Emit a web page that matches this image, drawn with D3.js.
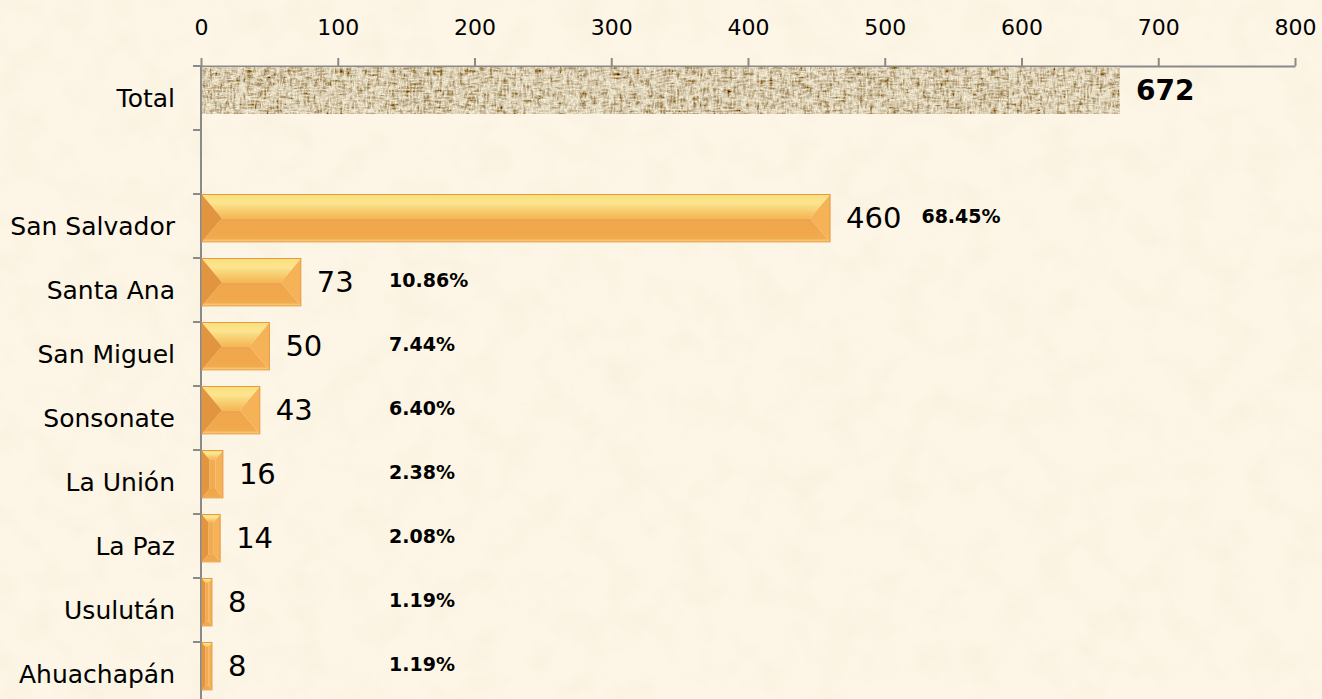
<!DOCTYPE html>
<html>
<head>
<meta charset="utf-8">
<script src="https://cdn.jsdelivr.net/npm/d3@7"></script>
<style>
  body { margin: 0; background: #fbf3e2; }
  svg { display: block; font-family: "DejaVu Sans", sans-serif; }
</style>
</head>
<body>
<div id="chart"></div>
<script>
const categories = ["Total", "", "San Salvador", "Santa Ana", "San Miguel", "Sonsonate", "La Unión", "La Paz", "Usulután", "Ahuachapán"];
const values = [672, null, 460, 73, 50, 43, 16, 14, 8, 8];
const shares = [null, null, "68.45%", "10.86%", "7.44%", "6.40%", "2.38%", "2.08%", "1.19%", "1.19%"];
const xTicks = [0, 100, 200, 300, 400, 500, 600, 700, 800];

const width = 1322, height = 699;

const svg = d3.select("#chart").append("svg")
    .attr("width", width)
    .attr("height", height);

const defs = svg.append("defs");

// parchment background
const parch = defs.append("filter").attr("id", "parch")
    .attr("x", 0).attr("y", 0).attr("width", 1).attr("height", 1);
parch.append("feTurbulence")
    .attr("type", "fractalNoise").attr("baseFrequency", "0.028")
    .attr("numOctaves", 4).attr("seed", 7);
parch.append("feColorMatrix").attr("type", "matrix")
    .attr("values", "0 0 0 0 0.94  0 0 0 0 0.88  0 0 0 0 0.74  1.8 0 0 0 -0.8");

// burlap texture for the total bar
const burlap = defs.append("filter").attr("id", "burlap")
    .attr("x", 0).attr("y", 0).attr("width", 1).attr("height", 1);
burlap.append("feTurbulence")
    .attr("type", "turbulence").attr("baseFrequency", "0.3 0.09")
    .attr("numOctaves", 2).attr("seed", 4).attr("result", "n1");
burlap.append("feTurbulence")
    .attr("type", "turbulence").attr("baseFrequency", "0.09 0.3")
    .attr("numOctaves", 2).attr("seed", 11).attr("result", "n2");
burlap.append("feComposite").attr("in", "n1").attr("in2", "n2")
    .attr("operator", "arithmetic").attr("k2", 0.85).attr("k3", 0.85);
burlap.append("feColorMatrix").attr("type", "matrix")
    .attr("values", "-1.2 0 0 0 0.98  -1.35 0 0 0 0.93  -1.3 0 0 0 0.75  0 0 0 0 1");

const topGrad = defs.append("linearGradient").attr("id", "topFacet")
    .attr("x1", 0).attr("y1", 0).attr("x2", 0).attr("y2", 1);
topGrad.append("stop").attr("offset", "0%").attr("stop-color", "#fdde78");
topGrad.append("stop").attr("offset", "35%").attr("stop-color", "#fbe690");
topGrad.append("stop").attr("offset", "100%").attr("stop-color", "#f6b653");

const botGrad = defs.append("linearGradient").attr("id", "botFacet")
    .attr("x1", 0).attr("y1", 0).attr("x2", 0).attr("y2", 1);
botGrad.append("stop").attr("offset", "0%").attr("stop-color", "#efa44a");
botGrad.append("stop").attr("offset", "85%").attr("stop-color", "#f2aa4e");
botGrad.append("stop").attr("offset", "100%").attr("stop-color", "#fcd27c");

svg.append("rect").attr("width", width).attr("height", height).attr("fill", "#fdf5e5");
svg.append("rect").attr("width", width).attr("height", height).attr("filter", "url(#parch)");

const x = d3.scaleLinear().domain([0, 800]).range([201, 1295]);
const y = d3.scaleBand().domain(categories).range([66, 706]).padding(0);
const barH = y.bandwidth() * 0.74;

const rows = categories.map((c, i) => ({ cat: c, value: values[i], share: shares[i] }));

// top axis
const xAxis = svg.append("g")
    .attr("transform", `translate(0,${y.range()[0]})`)
    .call(d3.axisTop(x).tickValues(xTicks).tickSize(8).tickSizeOuter(0).tickPadding(23));
xAxis.select(".domain").attr("stroke", "#8a8a8a").attr("stroke-width", 2);
xAxis.selectAll(".tick line").attr("stroke", "#8a8a8a").attr("stroke-width", 2);
xAxis.selectAll(".tick text")
    .attr("fill", "#000")
    .style("font-size", "22px")
    .style("font-family", "DejaVu Sans, sans-serif");

// left category axis, ticks between categories
const yAxis = svg.append("g");
yAxis.append("line")
    .attr("x1", x(0)).attr("x2", x(0))
    .attr("y1", y.range()[0]).attr("y2", y.range()[1])
    .attr("stroke", "#8a8a8a").attr("stroke-width", 2);
yAxis.selectAll(".ytick")
    .data(categories)
    .enter().append("line")
    .attr("class", "ytick")
    .attr("x1", x(0) - 8).attr("x2", x(0))
    .attr("y1", d => y(d)).attr("y2", d => y(d))
    .attr("stroke", "#8a8a8a").attr("stroke-width", 2);
yAxis.selectAll(".ylabel")
    .data(categories)
    .enter().append("text")
    .attr("class", "ylabel")
    .attr("x", 175)
    .attr("y", d => y(d) + y.bandwidth() / 2)
    .attr("dy", "0.36em")
    .attr("text-anchor", "end")
    .style("font-size", "25px")
    .text(d => d);

const data = rows.filter(d => d.value != null);

// total bar with burlap texture
const totalRow = data.filter(d => d.cat === "Total");
svg.selectAll(".totalbar")
    .data(totalRow)
    .enter().append("rect")
    .attr("class", "totalbar")
    .attr("x", x(0) + 1)
    .attr("y", d => y(d.cat) + 1)
    .attr("width", d => x(d.value) - x(0) - 1)
    .attr("height", barH - 1)
    .attr("filter", "url(#burlap)");

// bevelled orange bars
const regions = data.filter(d => d.cat !== "Total");
const bars = svg.selectAll(".bar")
    .data(regions)
    .enter().append("g")
    .attr("class", "bar");

function facets(d) {
    const x0 = x(0) + 1, y0 = y(d.cat) + 0.5;
    const w = x(d.value) - x0, h = barH;
    const bx = Math.min(20, w * 0.35);
    const by = Math.min(h / 2, bx * 1.2);
    const x1 = x0 + w, y1 = y0 + h;
    return {
        top: [[x0, y0], [x1, y0], [x1 - bx, y0 + by], [x0 + bx, y0 + by]],
        bottom: [[x0, y1], [x1, y1], [x1 - bx, y1 - by], [x0 + bx, y1 - by]],
        left: [[x0, y0], [x0 + bx, y0 + by], [x0 + bx, y1 - by], [x0, y1]],
        right: [[x1, y0], [x1 - bx, y0 + by], [x1 - bx, y1 - by], [x1, y1]],
        inner: [[x0 + bx, y0 + by], [x1 - bx, y0 + by], [x1 - bx, y1 - by], [x0 + bx, y1 - by]],
        outline: [x0, y0, w, h]
    };
}

const line = d3.line();
bars.append("path").attr("d", d => line(facets(d).inner) + "Z").attr("fill", "#f2ab50");
bars.append("path").attr("d", d => line(facets(d).bottom) + "Z").attr("fill", "url(#botFacet)");
bars.append("path").attr("d", d => line(facets(d).left) + "Z").attr("fill", "#e2953f");
bars.append("path").attr("d", d => line(facets(d).right) + "Z").attr("fill", "#f5b257");
bars.append("path").attr("d", d => line(facets(d).top) + "Z").attr("fill", "url(#topFacet)");
bars.append("rect")
    .attr("x", d => facets(d).outline[0])
    .attr("y", d => facets(d).outline[1])
    .attr("width", d => facets(d).outline[2])
    .attr("height", d => facets(d).outline[3])
    .attr("fill", "none")
    .attr("stroke", "#e39a45")
    .attr("stroke-width", 1);

// value labels
const valueLabels = svg.selectAll(".vlabel")
    .data(data)
    .enter().append("text")
    .attr("class", "vlabel")
    .attr("x", d => x(d.value) + 16)
    .attr("y", d => y(d.cat) + barH / 2)
    .attr("dy", "0.36em")
    .style("font-size", d => d.cat === "Total" ? "28px" : "29px")
    .style("font-weight", d => d.cat === "Total" ? "bold" : "normal")
    .text(d => d.value);

// share labels
const ends = {};
valueLabels.each(function (d) { ends[d.cat] = x(d.value) + 16 + this.getComputedTextLength(); });

svg.selectAll(".plabel")
    .data(data.filter(d => d.share))
    .enter().append("text")
    .attr("class", "plabel")
    .attr("x", d => Math.max(ends[d.cat] + 20, x(137.5)))
    .attr("y", d => y(d.cat) + barH / 2 - 2)
    .attr("dy", "0.36em")
    .style("font-size", "19px")
    .style("font-weight", "bold")
    .text(d => d.share);
</script>
</body>
</html>
